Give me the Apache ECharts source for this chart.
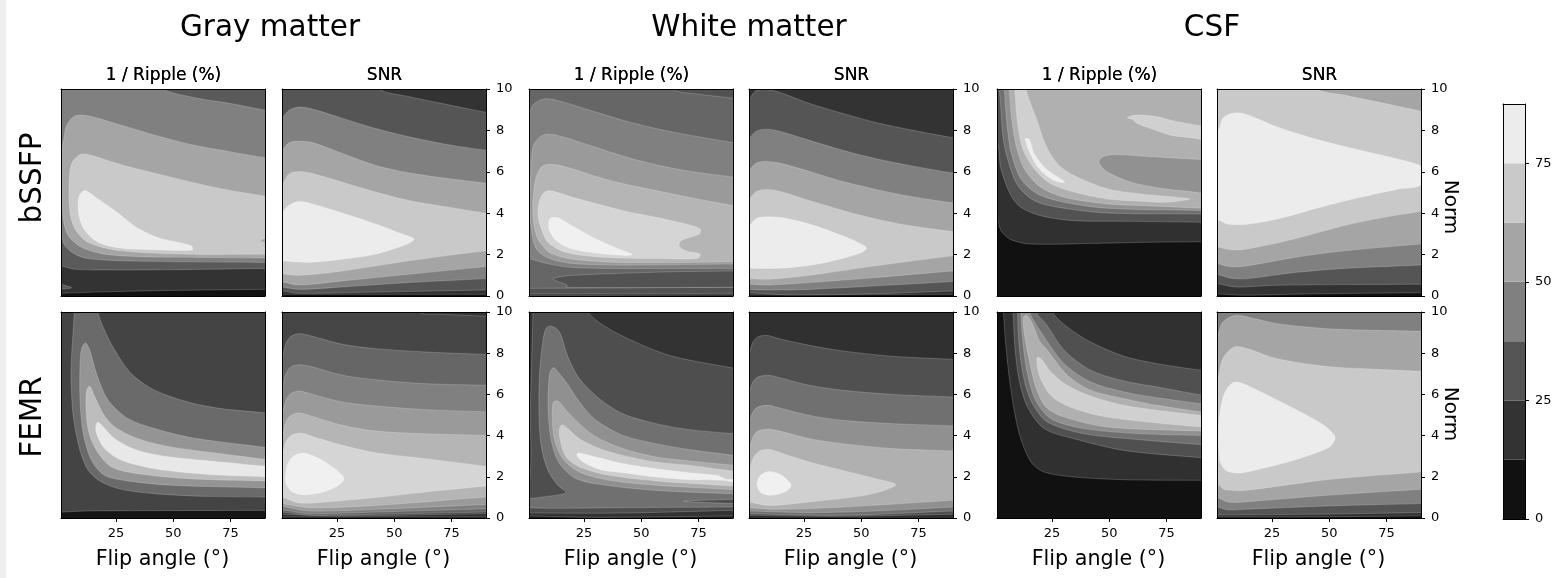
<!DOCTYPE html>
<html><head><meta charset="utf-8">
<style>html,body{margin:0;padding:0;background:#fff}#c{width:1561px;height:578px}</style>
<script src="https://cdn.jsdelivr.net/npm/echarts@6/dist/echarts.min.js"></script>
</head><body><div id="c"></div>
<script>
const flipTicks=[25,50,75];
const colorbarStep=[12.5,12.5,12.5,12.5,12.5,12.5,12.5];
const colorbarTicks=[0,25,50,75];
const tissues=['Gray matter','White matter','CSF'];
const metrics=['1 / Ripple (%)','SNR'];
const sequences=['bSSFP','FEMR'];

// Superlevel regions: [band index, [[flip angle, norm], ...]], in paint order.
const gmRippleB=[
[1,[[-5,.1],[1,.13],[20,.2],[50,.27],[90,.32],[96,.33],[96,11],[-5,11]]],
[2,[[-5,1.6],[1,1.46],[7,1.29],[20,1.26],[50,1.27],[90,1.33],[96,1.33],[96,11],[-5,11]]],
[2,[[-3,.7],[1,.57],[5.6,.4],[1,.33],[-3,.3]]],
[3,[[-5,3],[1,2.83],[2.7,2.43],[7.1,2.02],[12.9,1.81],[27.4,1.7],[56.4,1.65],[90,1.62],[96,1.6],[96,8.9],[90,8.98],[75,9.3],[60.7,9.55],[44.8,10],[38,10.6],[35,11],[-5,11]]],
[4,[[1.6,7.12],[2,7.44],[3.5,8.25],[7.1,8.7],[12.9,8.7],[27.4,8.25],[41.9,7.77],[59.3,7.28],[75.2,6.96],[90,6.68],[96,6.6],[96,1.85],[90,1.84],[63.6,1.86],[41.9,1.88],[20,2.02],[10,2.35],[4.2,2.91],[2,3.72],[1.6,5.34]]],
[5,[[4.5,5.34],[5.6,6.39],[9.3,6.83],[12.9,6.83],[27.4,6.34],[49,5.74],[70.9,5.18],[90,4.82],[96,4.7],[96,2],[90,2.02],[56.4,2.02],[27.4,2.18],[12.9,2.59],[7.1,3.24],[4.9,4.05]]],
[6,[[8.5,4.53],[9.3,4.93],[11.7,5.1],[17.2,4.69],[24.5,4.13],[34.6,3.27],[43.3,2.83],[57.8,2.43],[58.3,2.22],[41.9,2.23],[27.4,2.31],[17.2,2.59],[11.4,3.16],[8.8,3.88]]],
[4,[[88,2.67],[91,2.8],[91,2.57]]]
];
const gmSnrB=[
[1,[[-5,.08],[1,.08],[90,.08],[96,.08],[96,11],[-5,11]]],
[2,[[-5,.3],[1,.24],[8.5,.13],[41.9,.19],[90,.29],[96,.3],[96,8.8],[90,8.87],[70.9,9.3],[56.4,9.63],[43.3,10],[38,11],[-5,11]]],
[3,[[-5,.6],[1,.44],[8.5,.32],[27.4,.44],[56.4,.65],[90,.84],[96,.9],[96,7],[90,7.04],[70.9,7.36],[56.4,7.69],[41.9,8.09],[27.4,8.58],[14.3,9.03],[8.5,9.13],[4.2,8.98],[1,8.58],[-5,8]]],
[4,[[-5,.7],[1,.68],[8.5,.53],[27.4,.73],[56.4,1.05],[90,1.42],[96,1.5],[96,5.4],[90,5.45],[70.9,5.71],[56.4,5.95],[41.9,6.31],[27.4,6.88],[14.3,7.41],[8.5,7.48],[4.2,7.41],[1,7.04],[-5,6.5]]],
[5,[[-5,1.2],[1,1.08],[8.5,1],[27.4,1.21],[56.4,1.7],[90,2.18],[96,2.2],[96,3.9],[90,4],[70.9,4.34],[56.4,4.61],[41.9,5.02],[27.4,5.5],[14.3,5.92],[8.5,6.02],[4.2,5.91],[1,5.42],[-5,5]]],
[6,[[1,4.05],[4.2,4.4],[8.5,4.56],[14.3,4.45],[27.4,4.01],[41.9,3.48],[53.5,2.99],[58.6,2.75],[55.7,2.51],[41.9,2.02],[27.4,1.78],[12.9,1.62],[5.6,1.65],[1,1.7],[-3,1.8],[-3,3.6]]]
];
const wmRippleB=[
[1,[[-5,.03],[1,.03],[30,.03],[90,.05],[96,.05],[96,11],[-5,11]]],
[2,[[-5,.1],[1,.1],[30,.1],[90,.13],[96,.13],[96,11],[-5,11]]],
[3,[[-5,.37],[1,.37],[41.9,.39],[90,.42],[96,.42],[96,9.4],[90,9.55],[75,9.75],[63.6,10],[60,11],[-5,11]]],
[2,[[11.4,.84],[17.2,.97],[27.4,1.04],[41.9,1.1],[63.6,1.17],[90,1.21],[96,1.2],[96,.42],[90,.42],[17.2,.42],[17.6,.53],[12.9,.73]]],
[4,[[1,8.58],[2.7,9.22],[7.1,9.51],[12.9,9.46],[27.4,8.98],[41.9,8.49],[56.4,8.09],[70.9,7.77],[90,7.41],[96,7.3],[96,1.3],[90,1.33],[41.9,1.33],[20,1.38],[10,1.54],[1,1.81],[-5,2],[1.2,5]]],
[5,[[2,6.15],[3,7.28],[7.1,7.77],[12.9,7.77],[27.4,7.28],[41.9,6.76],[56.4,6.34],[70.9,6.03],[90,5.74],[96,5.6],[96,1.5],[90,1.54],[41.9,1.49],[20,1.57],[10,1.81],[4.2,2.27],[2,3.24],[1.3,4.53]]],
[6,[[2.7,4.53],[3.9,5.66],[6.4,6.23],[10,6.36],[17.2,6.23],[34.6,5.63],[49,5.26],[63.6,4.93],[78,4.61],[90,4.37],[96,4.3],[96,1.7],[90,1.65],[41.9,1.62],[20,1.78],[10,2.1],[4.9,2.75],[3,3.56]]],
[7,[[4.9,3.88],[5.6,4.61],[7.8,5.02],[10.7,5.08],[20,4.77],[41.9,4.13],[56.4,3.8],[69.4,3.48],[75.7,3.24],[75.2,2.99],[67.3,2.67],[66.5,2.43],[69.4,2.18],[75.7,2.02],[74.5,1.81],[56.4,1.81],[34.6,1.86],[17.2,2.1],[9.3,2.59],[6.4,3.24]]],
[8,[[9.7,3.24],[10,3.72],[12.9,3.8],[17.2,3.56],[27.4,2.91],[37.5,2.39],[46,1.99],[34.6,2.02],[20,2.27],[12.9,2.67]]]
];
const wmSnrB=[
[1,[[-5,.05],[1,.05],[90,.08],[96,.08],[96,11],[-5,11]]],
[2,[[-5,.2],[1,.16],[20,.05],[56.4,.11],[90,.24],[96,.25],[96,7.6],[90,7.65],[70.9,8.04],[56.4,8.38],[41.9,8.82],[27.4,9.3],[14.3,9.84],[8.5,9.97],[3.5,9.87],[1,9.47],[-5,9]]],
[3,[[-5,.35],[1,.32],[10,.29],[27.4,.32],[56.4,.49],[90,.7],[96,.75],[96,5.9],[90,5.94],[70.9,6.31],[56.4,6.63],[41.9,7.04],[27.4,7.52],[14.3,7.96],[8.5,8.06],[4.2,7.96],[1,7.6],[-5,7]]],
[4,[[-5,.6],[1,.57],[10,.53],[27.4,.65],[56.4,.89],[90,1.21],[96,1.25],[96,4.45],[90,4.5],[70.9,4.82],[56.4,5.15],[41.9,5.53],[27.4,6.02],[14.3,6.42],[8.5,6.5],[4.2,6.42],[1,6.07],[-5,5.5]]],
[5,[[-5,.88],[1,.84],[10,.81],[27.4,1],[56.4,1.46],[90,1.94],[96,2],[96,3.05],[90,3.11],[70.9,3.4],[56.4,3.72],[41.9,4.13],[27.4,4.61],[14.3,5.06],[8.5,5.15],[4.2,5.05],[1,4.69],[-5,4.2]]],
[6,[[1,3.4],[4.2,3.75],[8.5,3.83],[14.3,3.8],[27.4,3.48],[41.9,2.91],[49,2.56],[52.3,2.31],[49,2.05],[34.6,1.62],[20,1.38],[8.5,1.33],[1,1.34],[-3,1.4],[-3,3.2]]]
];
const csfRippleB=[
[1,[[-5,4],[1,3.72],[2.7,3.16],[7.1,2.72],[15.8,2.51],[41.9,2.54],[63.6,2.59],[90,2.62],[96,2.6],[96,11],[-5,11]]],
[2,[[-5,8],[1,7.44],[2.7,6.15],[7.1,4.85],[11.4,4.29],[20,3.88],[34.6,3.64],[56.4,3.61],[90,3.56],[96,3.5],[96,11],[-5,11]]],
[3,[[2,10],[3.5,7.77],[5.6,6.63],[10,5.34],[17.2,4.61],[27.4,4.29],[49,4.01],[90,3.96],[96,3.9],[96,11],[0,11]]],
[4,[[4.2,10],[5.4,8.25],[7.1,6.96],[11.4,5.66],[18.7,4.93],[30.3,4.53],[49,4.24],[90,4.13],[96,4.1],[96,11],[4,11]]],
[5,[[6.4,10],[7.4,8.58],[9.3,7.28],[12.9,6.15],[20,5.26],[30.3,4.77],[49,4.45],[70.9,4.34],[90,4.24],[96,4.2],[96,11],[6,11]]],
[6,[[8.8,10],[9.7,8.58],[12.2,7.12],[17.2,6.15],[24.5,5.42],[34.6,5.02],[49,4.69],[63.6,4.58],[75.2,4.53],[85.1,4.69],[63.6,4.93],[49,5.18],[34.6,5.82],[27.4,6.39],[22.3,7.28],[18.7,8.41],[13.6,10],[13,11],[8,11]]],
[6,[[57.8,8.62],[61.5,8.74],[69.4,8.69],[78.1,8.46],[90,8.22],[96,8.1],[96,7.2],[90,7.56],[76.7,7.77],[68,8.09],[62.2,8.33],[60,8.53]]],
[4,[[45.5,6.47],[47,6.71],[52,6.83],[63.6,6.76],[78,6.67],[90,6.6],[96,6.6],[96,4.7],[90,4.97],[73.8,5.18],[59.3,5.5],[50.6,5.9],[47,6.18]]],
[7,[[13.3,7.6],[15.1,7.57],[17.2,6.88],[22.3,6.15],[30.6,5.5],[25.9,5.58],[20,6.07],[15.8,6.8]]]
];
const csfSnrB=[
[1,[[-5,.1],[1,.1],[13,.04],[40,.1],[90,.16],[96,.16],[96,11],[-5,11]]],
[2,[[-5,.7],[1,.6],[8.5,.44],[12.9,.44],[27.4,.52],[56,.55],[90,.57],[96,.58],[96,11],[-5,11]]],
[3,[[-5,1.2],[1,1.05],[7.1,.86],[14.3,.84],[34.6,1.13],[56.4,1.33],[90,1.5],[96,1.55],[96,11],[-5,11]]],
[4,[[-5,1.7],[1,1.57],[7.1,1.41],[14.3,1.46],[34.6,1.86],[56.4,2.18],[90,2.51],[96,2.55],[96,11],[-5,11]]],
[5,[[-5,2.5],[1,2.38],[7.1,2.23],[14.3,2.27],[34.6,2.75],[56.4,3.4],[73.8,3.8],[90,4.09],[96,4.2],[96,8.8],[90,8.93],[70.9,9.38],[56.4,9.71],[44.8,10],[40,11],[-5,11]]],
[6,[[1.6,8.01],[3.5,8.58],[7.1,8.82],[12.2,8.83],[27.4,8.17],[46.2,7.52],[63.6,7.04],[79.6,6.63],[88.3,6.36],[90,6.23],[90,5.37],[79.6,5.15],[63.6,4.77],[46.2,4.29],[27.4,3.72],[12.9,3.45],[5.6,3.48],[1,3.72],[-3,4],[-3,7.5]]]
];
const gmRippleF=[
[1,[[-5,.29],[1,.29],[12.9,.34],[90,.37],[96,.37],[96,11],[-5,11]]],
[2,[[6.8,10],[5.6,7.81],[5.4,6.68],[6.4,4.9],[9.3,3.28],[12.9,2.31],[18.7,1.75],[27.4,1.39],[41.9,1.18],[63.6,1.05],[90,1.02],[96,1],[96,5],[90,5.1],[70.9,5.31],[56.4,5.63],[41.9,6.2],[31.7,7],[24.5,8.14],[20,9.11],[17,10],[16,11],[7,11]]],
[3,[[11.7,8.49],[10,8.22],[9.3,7.49],[9.3,5.71],[10.7,4.09],[14.3,2.8],[20,2.07],[30.3,1.8],[49,1.59],[90,1.46],[96,1.4],[96,3.3],[90,3.43],[70.9,3.69],[56.4,3.93],[41.9,4.34],[30.3,4.82],[21.6,5.71],[16.5,7],[13.6,8.14]]],
[4,[[13.5,6.41],[12.2,6.2],[11.9,5.39],[12.9,4.26],[16.5,3.28],[23,2.48],[34.6,2.15],[56.4,1.91],[90,1.8],[96,1.8],[96,2.8],[90,2.85],[70.9,3.12],[49,3.45],[34.6,3.85],[24.5,4.42],[19.4,5.06],[15.8,5.87]]],
[5,[[17.2,4.66],[16.2,4.45],[16.5,4.09],[20,3.37],[27.4,2.8],[41.9,2.39],[63.6,2.12],[90,1.99],[96,1.95],[96,2.5],[90,2.52],[70.9,2.72],[49,2.96],[34.6,3.28],[24.5,3.85]]]
];
const gmSnrF=[
[1,[[-5,.05],[1,.05],[90,.05],[96,.05],[96,11],[-5,11]]],
[2,[[-5,.2],[1,.18],[27.4,.1],[90,.21],[96,.22],[96,9.7],[90,9.79],[70.9,9.89],[60.7,10],[58,11],[-5,11]]],
[3,[[-5,.3],[1,.29],[12.9,.13],[41.9,.18],[90,.29],[96,.3],[96,7.9],[90,7.94],[63.6,8.06],[41.9,8.22],[27.4,8.43],[14.3,8.82],[8.5,8.95],[4.9,8.82],[2.7,8.46],[1,7.81],[-5,7]]],
[4,[[-5,.45],[1,.4],[12.9,.21],[41.9,.29],[90,.45],[96,.48],[96,6.4],[90,6.44],[63.6,6.52],[41.9,6.71],[27.4,6.93],[14.3,7.33],[8.5,7.44],[4.9,7.33],[2.7,7],[1,6.36],[-5,5.6]]],
[5,[[-5,.6],[1,.57],[12.9,.34],[41.9,.42],[90,.66],[96,.7],[96,5.1],[90,5.15],[63.6,5.26],[41.9,5.44],[27.4,5.63],[14.3,6],[8.5,6.16],[4.9,6.04],[2.7,5.71],[1,5.06],[-5,4.3]]],
[6,[[-5,.8],[1,.7],[12.9,.5],[41.9,.61],[90,1.02],[96,1.05],[96,4],[90,4.01],[63.6,4.09],[41.9,4.22],[27.4,4.5],[14.3,4.93],[8.5,5.1],[4.9,4.98],[2.7,4.66],[1,4.01],[-5,3.3]]],
[7,[[-5,1.2],[1,1.02],[8.5,.73],[20,.78],[41.9,.99],[63.6,1.26],[90,1.55],[96,1.6],[96,2.4],[90,2.51],[63.6,2.88],[41.9,3.17],[27.4,3.53],[14.3,3.96],[9.3,4.13],[4.9,4.01],[2.7,3.69],[1,3.12],[-5,2.4]]],
[8,[[2.4,1.91],[3.5,2.64],[6.4,3.04],[10.3,3.16],[15.8,2.96],[23,2.48],[28.1,1.91],[24.5,1.5],[17.2,1.21],[10,1.12],[5.6,1.26],[3,1.59]]]
];
const wmRippleF=[
[1,[[-5,.1],[1,.1],[30,.03],[90,.1],[96,.1],[96,11],[-5,11]]],
[2,[[-5,.25],[1,.24],[41.9,.24],[90,.37],[96,.37],[96,7.2],[90,7.28],[63.6,7.85],[49,8.46],[34.6,9.27],[26.7,10],[24,11],[2.5,11],[2.7,10],[1.6,5.39],[1,1.67],[-5,1.5]]],
[3,[[-5,.5],[1,.49],[12.9,.47],[41.9,.5],[90,.53],[96,.53],[96,4],[90,4.09],[70.9,4.29],[56.4,4.58],[41.9,5.06],[31.7,5.79],[23,6.76],[18,7.81],[14.3,9.03],[10.7,9.32],[8.5,9.22],[7.1,8.62],[5.6,7],[5.4,4.9],[6.4,3.45],[9.3,2.31],[13.6,1.59],[17.2,1.23],[7.1,1.02],[1,.94],[-5,.9]]],
[2,[[68.4,.81],[90,.91],[96,.95],[96,.68],[90,.7]]],
[4,[[11.7,7.3],[10,7],[9.3,5.39],[10.7,3.77],[14.3,2.64],[21.6,1.91],[34.6,1.59],[56.4,1.34],[90,1.18],[96,1.18],[96,2.9],[90,3.04],[70.9,3.32],[56.4,3.61],[41.9,4.01],[30.3,4.74],[23,5.63],[17.2,6.6],[13.6,7.09]]],
[5,[[12.5,5.68],[11.4,5.55],[11.2,4.74],[12.2,3.77],[15.8,2.88],[23,2.23],[36.1,1.83],[56.4,1.59],[90,1.38],[96,1.35],[96,2.5],[90,2.56],[70.9,2.77],[56.4,2.96],[41.9,3.37],[30.3,3.93],[23,4.58],[17.2,5.23],[14.3,5.63]]],
[6,[[15.5,4.53],[14.3,4.34],[14.6,3.77],[17.2,2.96],[23,2.48],[36.1,2.07],[56.4,1.8],[90,1.55],[96,1.5],[96,2.25],[90,2.28],[70.9,2.56],[56.4,2.72],[41.9,3.04],[31.7,3.37],[23,3.85],[17.9,4.34]]],
[7,[[22.3,3.16],[22,3.01],[24.6,2.72],[31.7,2.36],[41.9,2.2],[56.4,1.99],[70.9,1.86],[85.4,1.83],[90,1.75],[96,1.75],[96,1.95],[90,1.88],[86.9,1.88],[83,2.07],[70.9,2.2],[56.4,2.39],[41.9,2.64],[30.3,2.96]]]
];
const wmSnrF=[
[1,[[-5,.15],[1,.13],[41.9,.08],[90,.18],[96,.18],[96,7.65],[90,7.7],[63.6,7.85],[41.9,8.11],[27.4,8.38],[14.3,8.7],[8.5,8.87],[4.9,8.79],[2.7,8.54],[1,7.98],[-5,7.2]]],
[2,[[-5,.22],[1,.21],[41.9,.13],[90,.34],[96,.35],[96,5.8],[90,5.87],[63.6,6],[41.9,6.2],[27.4,6.44],[14.3,6.81],[9.3,6.93],[4.9,6.84],[2.7,6.6],[1,6.12],[-5,5.4]]],
[3,[[-5,.35],[1,.34],[27.4,.26],[56.4,.34],[90,.53],[96,.55],[96,4.4],[90,4.47],[63.6,4.58],[41.9,4.74],[27.4,4.98],[14.3,5.34],[9.3,5.47],[4.9,5.39],[2.7,5.15],[1,4.66],[-5,4]]],
[4,[[-5,.52],[1,.5],[12.9,.42],[41.9,.53],[90,.86],[96,.9],[96,3.2],[90,3.25],[63.6,3.37],[41.9,3.61],[27.4,3.85],[14.3,4.22],[9.3,4.32],[4.9,4.22],[2.7,3.93],[1,3.37],[-5,2.7]]],
[5,[[1,2.31],[2.7,2.88],[5.6,3.25],[10,3.32],[15.8,3.12],[27.4,2.72],[41.9,2.31],[56.4,1.91],[65.1,1.62],[59.3,1.31],[49,1.05],[27.4,.78],[10,.61],[1,.78],[-3,.9],[-3,2]]],
[6,[[4.5,1.59],[5.4,1.99],[7.8,2.2],[10.7,2.25],[15,2.1],[19.4,1.59],[16.5,1.26],[10.7,1.1],[6.4,1.21]]]
];
const csfRippleF=[
[1,[[3.8,10],[4.9,8.3],[7.1,6.2],[10.7,4.09],[15.8,2.72],[21.6,2.23],[34.6,1.99],[56.4,1.86],[90,1.83],[96,1.83],[96,11],[3,11]]],
[2,[[8.1,10],[8.8,8.3],[10.7,6.68],[14.3,5.39],[21.6,4.34],[34.6,3.85],[56.4,3.28],[90,2.93],[96,2.9],[96,7.1],[90,7.17],[70.9,7.49],[56.4,7.85],[41.9,8.54],[31.7,9.27],[25.2,10],[24,11],[8,11]]],
[3,[[10,10],[10.7,8.3],[12.9,6.68],[16.5,5.55],[23,4.66],[39,4.09],[63.6,3.8],[90,3.56],[96,3.5],[96,5.9],[90,5.97],[70.9,6.36],[56.4,6.65],[41.9,7.17],[30.3,8.14],[22.3,9.43],[18,10],[17,11],[10,11]]],
[4,[[11.4,10],[12.2,8.62],[14.3,7],[17.9,5.71],[24.5,4.82],[39,4.34],[63.6,4.09],[90,4.01],[96,4],[96,5.5],[90,5.55],[70.9,5.84],[56.4,6.12],[41.9,6.6],[30.3,7.49],[21.6,8.79],[15.1,10],[14,11],[11,11]]],
[5,[[12.5,9.76],[12.9,8.95],[15.1,7.65],[17.9,6.36],[22.3,5.39],[30.3,4.9],[49,4.42],[90,4.22],[96,4.2],[96,5.1],[90,5.15],[70.9,5.47],[56.4,5.79],[41.9,6.2],[31.7,6.93],[23,8.14],[19.4,8.62],[16.5,9.43],[14,9.84]]],
[6,[[18.7,7.81],[18.4,7.49],[20,6.76],[25.2,5.87],[34.6,5.31],[49,4.9],[70.9,4.61],[90,4.42],[96,4.4],[96,4.9],[90,4.98],[70.9,5.23],[56.4,5.47],[41.9,5.91],[31.7,6.44],[24.5,7.09],[20.9,7.65]]]
];
const csfSnrF=[
[1,[[-5,.05],[1,.05],[40,.05],[90,.1],[96,.1],[96,11],[-5,11]]],
[2,[[-5,.15],[1,.15],[40,.18],[90,.26],[96,.26],[96,11],[-5,11]]],
[3,[[-5,.6],[1,.53],[5.6,.4],[12.9,.42],[49,.58],[90,.7],[96,.72],[96,11],[-5,11]]],
[4,[[-5,1.2],[1,1.02],[5.6,.78],[12.9,.78],[49,1.1],[90,1.39],[96,1.42],[96,9],[90,9.06],[70.9,9.11],[49,9.19],[27.4,9.43],[17.2,9.68],[9.3,9.84],[3.5,9.51],[1,8.79],[-5,8]]],
[5,[[-5,1.9],[1,1.67],[4.2,1.38],[12.9,1.34],[49,1.86],[90,2.23],[96,2.27],[96,7.1],[90,7.12],[70.9,7.22],[49,7.36],[27.4,7.73],[14.3,8.22],[8.5,8.3],[3.5,7.73],[1,6.68],[-5,6]]],
[6,[[2,4.9],[4.2,6.04],[7.8,6.56],[11.4,6.56],[23,5.96],[40.4,4.98],[47.7,4.5],[52.3,4.01],[52.3,3.77],[49.9,3.42],[34.6,2.8],[17.2,2.31],[10,2.18],[4.9,2.31],[2.4,2.72],[1.7,3.45]]]
];

const g7=['#111111','#333333','#555555','#808080','#a5a5a5','#c9c9c9','#ececec'];
const panelList=[
 {d:gmRippleB, c:['#111111','#333333','#5a5a5a','#808080','#a5a5a5','#c9c9c9','#ececec'],col:0,row:0,m:0},
 {d:gmSnrB,    c:g7,col:1,row:0,m:1},
 {d:wmRippleB, c:['#1c1c1c','#363636','#525252','#666666','#808080','#9a9a9a','#b5b5b5','#d5d5d5','#f0f0f0'],col:2,row:0,m:0},
 {d:wmSnrB,    c:g7,col:3,row:0,m:1},
 {d:csfRippleB,c:['#111111','#303030','#525252','#707070','#919191','#b0b0b0','#d0d0d0','#efefef'],col:4,row:0,m:0},
 {d:csfSnrB,   c:g7,col:5,row:0,m:1},
 {d:gmRippleF, c:['#151515','#444444','#6a6a6a','#949494','#bdbdbd','#e8e8e8'],col:0,row:1,m:0},
 {d:gmSnrF,    c:['#1a1a1a','#333333','#464646','#666666','#808080','#9a9a9a','#b5b5b5','#d5d5d5','#f0f0f0'],col:1,row:1,m:1},
 {d:wmRippleF, c:['#1c1c1c','#333333','#4e4e4e','#707070','#909090','#ababab','#cdcdcd','#efefef'],col:2,row:1,m:0},
 {d:wmSnrF,    c:['#303030','#505050','#707070','#909090','#b0b0b0','#d0d0d0','#f0f0f0'],col:3,row:1,m:1},
 {d:csfRippleF,c:['#111111','#303030','#505050','#707070','#909090','#b0b0b0','#d0d0d0'],col:4,row:1,m:0},
 {d:csfSnrF,   c:g7,col:5,row:1,m:1}
];
const colLeft=[61,282,529,749,997,1217], rowTop=[89,312], rowH=[207,206], panelW=204;
const FONT='DejaVu Sans';

const grid=[],xAxis=[],yAxis=[],series=[],graphic=[];
function txt(t,x,y,size,rot){
  graphic.push({type:'text',x:x,y:y,rotation:rot||0,silent:true,z:100,
    style:{text:t,x:0,y:0,fill:'#000',font:size+'px "'+FONT+'"',textAlign:'center',textVerticalAlign:'middle'}});
}
graphic.push({type:'rect',shape:{x:0,y:0,width:6,height:578},style:{fill:'#efefef'},silent:true,z:-1});

panelList.forEach(function(p,i){
  const ax=i*2;
  grid.push({left:colLeft[p.col],top:rowTop[p.row],width:panelW,height:rowH[p.row],containLabel:false});
  const frame={show:true,lineStyle:{color:'#000',width:1}};
  xAxis.push({gridIndex:i,type:'value',min:1,max:90,position:'bottom',z:10,axisLine:Object.assign({onZero:false},frame),
    axisTick:{show:p.row===1,length:4,lineStyle:{color:'#000'},customValues:flipTicks},
    axisLabel:{show:p.row===1,fontFamily:FONT,fontSize:13,color:'#000',margin:9,customValues:flipTicks},splitLine:{show:false}});
  xAxis.push({gridIndex:i,type:'value',min:1,max:90,position:'top',z:10,axisLine:Object.assign({onZero:false},frame),axisTick:{show:false},axisLabel:{show:false},splitLine:{show:false}});
  yAxis.push({gridIndex:i,type:'value',min:0,max:10,interval:2,position:'left',z:10,axisLine:Object.assign({onZero:false},frame),axisTick:{show:false},axisLabel:{show:false},splitLine:{show:false}});
  yAxis.push({gridIndex:i,type:'value',min:0,max:10,interval:2,position:'right',z:10,axisLine:Object.assign({onZero:false},frame),
    axisTick:{show:p.m===1,length:4,lineStyle:{color:'#000'}},
    axisLabel:{show:p.m===1,fontFamily:FONT,fontSize:13,color:'#000',margin:10,padding:[2,0,0,0]},splitLine:{show:false}});
  const polys=[[0,[[-5,-1],[96,-1],[96,11],[-5,11]]]].concat(p.d);
  series.push({type:'custom',xAxisIndex:ax,yAxisIndex:ax,coordinateSystem:'cartesian2d',clip:true,silent:true,z:2,
    animation:false,data:polys.map(function(q,k){return [k];}),encode:{x:0,y:0},
    renderItem:function(params,api){
      const q=polys[params.dataIndex];
      return {type:'polygon',
        shape:{points:q[1].map(function(pt){return api.coord(pt);}),smooth:params.dataIndex===0?0:0.3},
        style:{fill:p.c[q[0]],stroke:params.dataIndex===0?null:'rgba(255,255,255,0.28)',lineWidth:0.7}};
    }});
  txt(metrics[p.m],colLeft[p.col]+panelW/2+0.5,76,17);
  if(p.row===1) txt('Flip angle (°)',colLeft[p.col]+panelW/2-0.5,560,20.7);
});
// Colour bar
const cbGrid=grid.length, cbAxis=xAxis.length;
grid.push({left:1503,top:104,width:22,height:415});
xAxis.push({gridIndex:cbGrid,type:'category',data:['c'],axisLine:{show:true,onZero:false,lineStyle:{color:'#000'}},axisTick:{show:false},axisLabel:{show:false},z:10,position:'bottom'});
xAxis.push({gridIndex:cbGrid,type:'category',data:['c'],axisLine:{show:true,onZero:false,lineStyle:{color:'#000'}},axisTick:{show:false},axisLabel:{show:false},z:10,position:'top'});
yAxis.push({gridIndex:cbGrid,type:'value',min:0,max:87.5,position:'left',z:10,axisLine:{show:true,onZero:false,lineStyle:{color:'#000'}},axisTick:{show:false},axisLabel:{show:false},splitLine:{show:false}});
yAxis.push({gridIndex:cbGrid,type:'value',min:0,max:87.5,position:'right',z:10,axisLine:{show:true,onZero:false,lineStyle:{color:'#000'}},
  axisTick:{show:true,length:4,lineStyle:{color:'#000'},customValues:colorbarTicks},
  axisLabel:{fontFamily:FONT,fontSize:13,color:'#000',margin:10,padding:[2,0,0,0],customValues:colorbarTicks},splitLine:{show:false}});
colorbarStep.forEach(function(v,i){
  series.push({type:'bar',xAxisIndex:cbAxis,yAxisIndex:cbAxis,stack:'cb',barWidth:'100%',silent:true,animation:false,
    data:[v],itemStyle:{color:g7[i]},z:2});
});

txt(tissues[0],270,28,29.5); txt(tissues[1],749,28,29.5); txt(tissues[2],1212,28,29.5);
txt(sequences[0],33,178,29.5,Math.PI/2); txt(sequences[1],33,417,29.5,Math.PI/2);
txt('Norm',1450,207,20,-Math.PI/2); txt('Norm',1450,414,20,-Math.PI/2);

const chart=echarts.init(document.getElementById('c'),null,{renderer:'canvas',width:1561,height:578});
chart.setOption({animation:false,backgroundColor:'#fff',tooltip:{show:false},grid,xAxis,yAxis,series,graphic:{elements:graphic}});
</script></body></html>
